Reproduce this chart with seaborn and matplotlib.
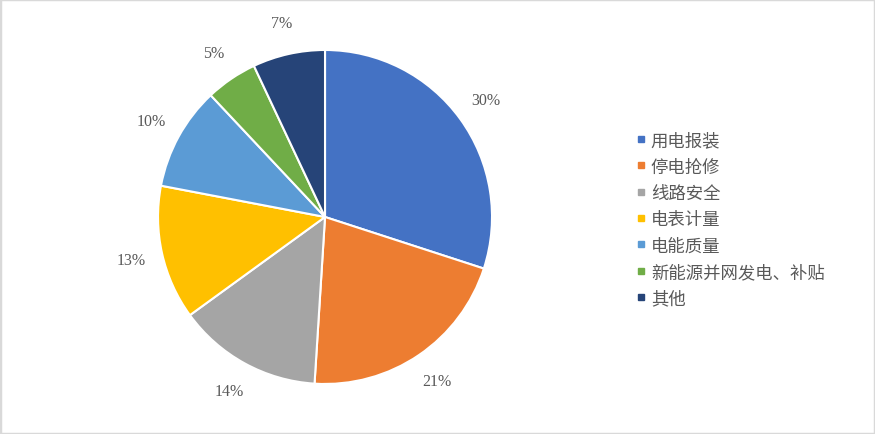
import matplotlib
matplotlib.use("Agg")
import matplotlib.pyplot as plt
import seaborn as sns
from matplotlib.lines import Line2D
from matplotlib.patches import Rectangle

categories = ['用电报装', '停电抢修', '线路安全', '电表计量', '电能质量', '新能源并网发电、补贴', '其他']
shares = [30, 21, 14, 13, 10, 5, 7]
colors = ['#4472C4', '#ED7D31', '#A5A5A5', '#FFC000', '#5B9BD5', '#70AD47', '#264478']

sns.set_style('white')
plt.rcParams['font.family'] = ['Noto Sans CJK SC', 'DejaVu Sans']

fig = plt.figure(figsize=(8.75, 4.35), dpi=100)
ax = fig.add_axes([0.1806, 0.115, 0.3817, 0.7678])

wedges, texts, autotexts = ax.pie(
    shares, colors=colors, startangle=90, counterclock=False,
    autopct='%d%%', pctdistance=1.19,
    wedgeprops=dict(edgecolor='white', linewidth=1.5),
    textprops=dict(color='#595959', fontsize=11.5, family='Liberation Serif'),
)
ax.set_xlim(-1, 1)
ax.set_ylim(-1, 1)
ax.set_aspect('equal')

handles = [Line2D([0], [0], marker='s', linestyle='', markersize=5,
                  markerfacecolor=c, markeredgecolor=c) for c in colors]
leg = fig.legend(handles, categories, loc='upper left', bbox_to_anchor=(0.715, 0.712),
                 frameon=False, prop=dict(size=12.5, weight='light'), labelspacing=0.48,
                 handletextpad=0.05, handlelength=1.0, borderaxespad=0)
for t in leg.get_texts():
    t.set_color('#595959')

fig.patches.append(Rectangle((0, 0), 1, 1, transform=fig.transFigure,
                             fill=False, edgecolor='#D9D9D9', linewidth=2.5))

fig.savefig('out.png', dpi=100)
